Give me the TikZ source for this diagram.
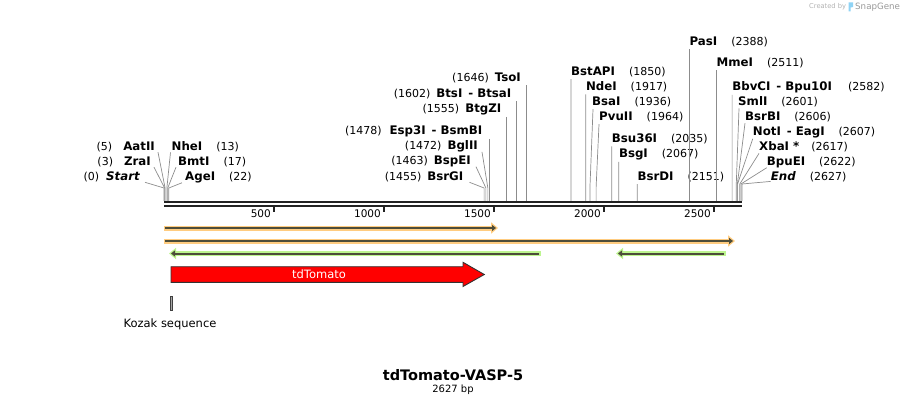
\documentclass[tikz,border=0pt]{standalone}
\usepackage{fontspec}
\setmainfont{DejaVu Sans}
\usetikzlibrary{arrows.meta,calc}
\definecolor{cutgray}{HTML}{8C8C8C}
\definecolor{seqdark}{HTML}{222222}
\definecolor{orband}{HTML}{FFCC80}
\definecolor{grband}{HTML}{BDF58F}
\definecolor{featline}{HTML}{4D4D3A}
\definecolor{tdred}{HTML}{FF0000}
\definecolor{logoblue}{HTML}{8FD3F5}
\newcommand{\enz}[1]{{\fontsize{11.8}{13}\selectfont\bfseries #1}}
\newcommand{\hy}{\hspace{6pt}-\hspace{4pt}}
\begin{document}
\begin{tikzpicture}[x=1pt,y=-1pt,
  lab/.style={inner sep=0pt, font=\fontsize{11}{12}\selectfont},
  cut/.style={draw=cutgray, line width=0.7pt},
  seq/.style={draw=seqdark, line width=2pt},
  tickmark/.style={draw=seqdark, line width=1.6pt},
  ticklab/.style={inner sep=0pt, font=\fontsize{10.5}{12}\selectfont, anchor=east},
  band/.style={line width=5pt, -{Triangle[length=7pt,width=11pt]}},
  inner/.style={draw=featline, line width=2pt, -{Triangle[length=4pt,width=6pt]}},
]
\useasboundingbox (0,0) rectangle (907,406);

% ---------- site coordinates ----------
\coordinate (s0) at (164.0,201);
\coordinate (s3) at (164.66,201);
\coordinate (s5) at (165.1,201);
\coordinate (s13) at (166.86,201);
\coordinate (s17) at (167.74,201);
\coordinate (s22) at (168.84,201);
\coordinate (s1455) at (484.13,201);
\coordinate (s1463) at (485.89,201);
\coordinate (s1472) at (487.87,201);
\coordinate (s1478) at (489.19,201);
\coordinate (s1555) at (506.13,201);
\coordinate (s1602) at (516.47,201);
\coordinate (s1646) at (526.15,201);
\coordinate (s1850) at (571.04,201);
\coordinate (s1917) at (585.78,201);
\coordinate (s1936) at (589.96,201);
\coordinate (s1964) at (596.12,201);
\coordinate (s2035) at (611.74,201);
\coordinate (s2067) at (618.78,201);
\coordinate (s2151) at (637.26,201);
\coordinate (s2388) at (689.41,201);
\coordinate (s2511) at (716.47,201);
\coordinate (s2582) at (732.09,201);
\coordinate (s2601) at (736.27,201);
\coordinate (s2606) at (737.37,201);
\coordinate (s2607) at (737.59,201);
\coordinate (s2617) at (739.79,201);
\coordinate (s2622) at (740.89,201);
\coordinate (s2627) at (742.0,201);

% ---------- labels ----------
% left cluster
\node[lab, anchor=east] (aat) at (155,147) {(5)\hspace{11pt}\enz{AatII}};
\node[lab, anchor=east] (zra) at (151,162) {(3)\hspace{11pt}\enz{ZraI}};
\node[lab, anchor=east] (sta) at (140,177) {(0)\hspace{7pt}\enz{\itshape Start}};
\node[lab, anchor=west] (nhe) at (171.5,147) {\enz{NheI}\hspace{14pt}(13)};
\node[lab, anchor=west] (bmt) at (178,162) {\enz{BmtI}\hspace{14pt}(17)};
\node[lab, anchor=west] (age) at (185,177) {\enz{AgeI}\hspace{14pt}(22)};
% middle cluster
\node[lab, anchor=east] (tso) at (521,78) {(1646)\hspace{6pt}\enz{TsoI}};
\node[lab, anchor=east] (bts) at (511.5,94) {(1602)\hspace{6pt}\enz{BtsI\hy BtsaI}};
\node[lab, anchor=east] (btg) at (501.5,109) {(1555)\hspace{6pt}\enz{BtgZI}};
\node[lab, anchor=east] (esp) at (482.5,131) {(1478)\hspace{8pt}\enz{Esp3I\hy BsmBI}};
\node[lab, anchor=east] (bgl) at (478,146) {(1472)\hspace{6pt}\enz{BglII}};
\node[lab, anchor=east] (bsp) at (471,161) {(1463)\hspace{6pt}\enz{BspEI}};
\node[lab, anchor=east] (bsrg) at (463.5,177) {(1455)\hspace{6pt}\enz{BsrGI}};
% right cluster
\node[lab, anchor=west] (bstap) at (571,72) {\enz{BstAPI}\hspace{14pt}(1850)};
\node[lab, anchor=west] (nde) at (585.8,87) {\enz{NdeI}\hspace{14pt}(1917)};
\node[lab, anchor=west] (bsa) at (592,102) {\enz{BsaI}\hspace{14pt}(1936)};
\node[lab, anchor=west] (pvu) at (599,117) {\enz{PvuII}\hspace{14pt}(1964)};
\node[lab, anchor=west] (bsu) at (611.7,139) {\enz{Bsu36I}\hspace{14pt}(2035)};
\node[lab, anchor=west] (bsg) at (618.8,154) {\enz{BsgI}\hspace{14pt}(2067)};
\node[lab, anchor=west] (bsrd) at (637.3,177) {\enz{BsrDI}\hspace{14pt}(2151)};
\node[lab, anchor=west] (pas) at (689.4,42) {\enz{PasI}\hspace{14pt}(2388)};
\node[lab, anchor=west] (mme) at (716.5,63) {\enz{MmeI}\hspace{14pt}(2511)};
\node[lab, anchor=west] (bbv) at (732.1,87) {\enz{BbvCI\hy Bpu10I}\hspace{16pt}(2582)};
\node[lab, anchor=west] (sml) at (738,102) {\enz{SmlI}\hspace{14pt}(2601)};
\node[lab, anchor=west] (bsrb) at (745,117) {\enz{BsrBI}\hspace{14pt}(2606)};
\node[lab, anchor=west] (noti) at (752.7,132) {\enz{NotI\hy EagI}\hspace{14pt}(2607)};
\node[lab, anchor=west] (xba) at (759,147) {\enz{XbaI *}\hspace{12pt}(2617)};
\node[lab, anchor=west] (bpue) at (766.7,162) {\enz{BpuEI}\hspace{14pt}(2622)};
\node[lab, anchor=west] (endl) at (770.7,177) {\enz{\itshape End}\hspace{14pt}(2627)};

% ---------- cut-site connectors ----------
% left fan
\draw[cut] ($(aat.south east)+(3,0)$) -- ($(s5)+(0,-13)$) -- (s5);
\draw[cut] ($(zra.south east)+(3,0)$) -- ($(s3)+(0,-13)$) -- (s3);
\draw[cut] ($(sta.south east)+(5,0)$) -- ($(s0)+(0,-13)$) -- (s0);
\draw[cut] ($(nhe.south west)+(-1,0)$) -- ($(s13)+(0,-13)$) -- (s13);
\draw[cut] ($(bmt.south west)+(-2,0)$) -- ($(s17)+(0,-13)$) -- (s17);
\draw[cut] ($(age.south west)+(-3,0)$) -- ($(s22)+(0,-13)$) -- (s22);
% middle
\draw[cut] ($(tso.south -| s1646)+(0,2)$) -- (s1646);
\draw[cut] ($(bts.south -| s1602)+(0,2)$) -- (s1602);
\draw[cut] ($(btg.south -| s1555)+(0,2)$) -- (s1555);
\draw[cut] ($(esp.south -| s1478)+(0,2)$) -- (s1478);
\draw[cut] ($(bgl.south east)+(4,0)$) -- ($(s1472)+(0,-13)$) -- (s1472);
\draw[cut] ($(bsp.south east)+(5,0)$) -- ($(s1463)+(0,-13)$) -- (s1463);
\draw[cut] ($(bsrg.south east)+(6,0)$) -- ($(s1455)+(0,-13)$) -- (s1455);
% right
\draw[cut] ($(bstap.south west)+(0,2)$) -- (s1850);
\draw[cut] ($(nde.south west)+(0,2)$) -- (s1917);
\draw[cut] ($(bsa.south west)+(1,2)$) -- ($(s1936)+(0,-14)$) -- (s1936);
\draw[cut] ($(pvu.south west)+(0,2)$) -- ($(s1964)+(0,-14)$) -- (s1964);
\draw[cut] ($(bsu.south west)+(0,2)$) -- (s2035);
\draw[cut] ($(bsg.south west)+(0,2)$) -- (s2067);
\draw[cut] ($(bsrd.south west)+(0,2)$) -- (s2151);
\draw[cut] ($(pas.south west)+(0,2)$) -- (s2388);
\draw[cut] ($(mme.south west)+(0,2)$) -- (s2511);
\draw[cut] ($(bbv.south west)+(0,2)$) -- (s2582);
\draw[cut] ($(sml.south west)+(1,1)$) -- ($(s2601)+(0,-17)$) -- (s2601);
\draw[cut] ($(bsrb.south west)+(0,1)$) -- ($(s2606)+(0,-17)$) -- (s2606);
\draw[cut] ($(noti.south west)+(0,1)$) -- ($(s2607)+(0,-17)$) -- (s2607);
\draw[cut] ($(xba.south west)+(0,1)$) -- ($(s2617)+(0,-17)$) -- (s2617);
\draw[cut] ($(bpue.south west)+(0,0)$) -- ($(s2622)+(0,-17)$) -- (s2622);
\draw[cut] ($(endl.south west)+(0,-1)$) -- ($(s2627)+(0,-17)$) -- (s2627);

% ---------- sequence ----------
\coordinate (seqL) at (164,202);
\coordinate (seqR) at (742,202);
\coordinate (seqL2) at (164,206);
\coordinate (seqR2) at (742,206);
\draw[seq] (seqL) -- (seqR);
\draw[seq] (seqL2) -- (seqR2);

% ticks
\draw[tickmark] (274.0,206) -- (274.0,212);
\draw[tickmark] (384.0,206) -- (384.0,212);
\draw[tickmark] (494.0,206) -- (494.0,212);
\draw[tickmark] (604.0,206) -- (604.0,212);
\draw[tickmark] (714.0,206) -- (714.0,212);
\node[ticklab] (t500) at (271,213.5) {500};
\node[ticklab] (t1000) at (381,213.5) {1000};
\node[ticklab] (t1500) at (491,213.5) {1500};
\node[ticklab] (t2000) at (601,213.5) {2000};
\node[ticklab] (t2500) at (711,213.5) {2500};

% ---------- features ----------
\draw[band, draw=orband, fill=orband] (164,228) -- (498,228);
\draw[inner, fill=featline] (165,228) -- (496,228);
\draw[band, draw=orband, fill=orband] (164,241) -- (735,241);
\draw[inner, fill=featline] (165,241) -- (733,241);
\draw[band, draw=grband, fill=grband] (541,253.5) -- (169,253.5);
\draw[inner, fill=featline] (539,253.5) -- (171,253.5);
\draw[band, draw=grband, fill=grband] (726,253.5) -- (616,253.5);
\draw[inner, fill=featline] (724,253.5) -- (618,253.5);

% tdTomato
\draw[fill=tdred, draw=black!80, line width=0.9pt]
  (171,266.7) -- (463,266.7) -- (463,262.3) -- (484.3,274.5) -- (463,286.5) -- (463,282.3) -- (171,282.3) -- cycle;
\node[text=white, font=\fontsize{11.5}{14}\selectfont, inner sep=0pt] (tdl) at (319,274) {tdTomato};

% Kozak
\node[draw=black!75, fill=black!35, line width=0.6pt, minimum width=2.6pt, minimum height=14.5pt, inner sep=0pt] (koz) at (171.2,303.3) {};
\node[font=\fontsize{11.5}{14}\selectfont, inner sep=0pt] (kozl) at (170,324.5) {Kozak sequence};

% ---------- title ----------
\node[font=\fontsize{14.5}{17}\selectfont\bfseries, inner sep=0pt] (title) at (453,375) {tdTomato-VASP-5};
\node[font=\fontsize{10}{12}\selectfont, inner sep=0pt] (bp) at (453,390) {2627 bp};

% ---------- watermark ----------
\node[anchor=west, inner sep=0pt, font=\fontsize{6.7}{8}\selectfont, text=black!30] (cr) at (809,7) {Created by};
\fill[logoblue] (848.5,2.5) -- (853,2.5) -- (853,7) -- (850.7,7.5) -- (850.7,11.5) -- (848.5,11.5) -- cycle;
\node[anchor=west, inner sep=0pt, font=\fontsize{8.7}{10}\selectfont, text=black!40] (sg) at (855,7) {SnapGene};
\end{tikzpicture}
\end{document}
